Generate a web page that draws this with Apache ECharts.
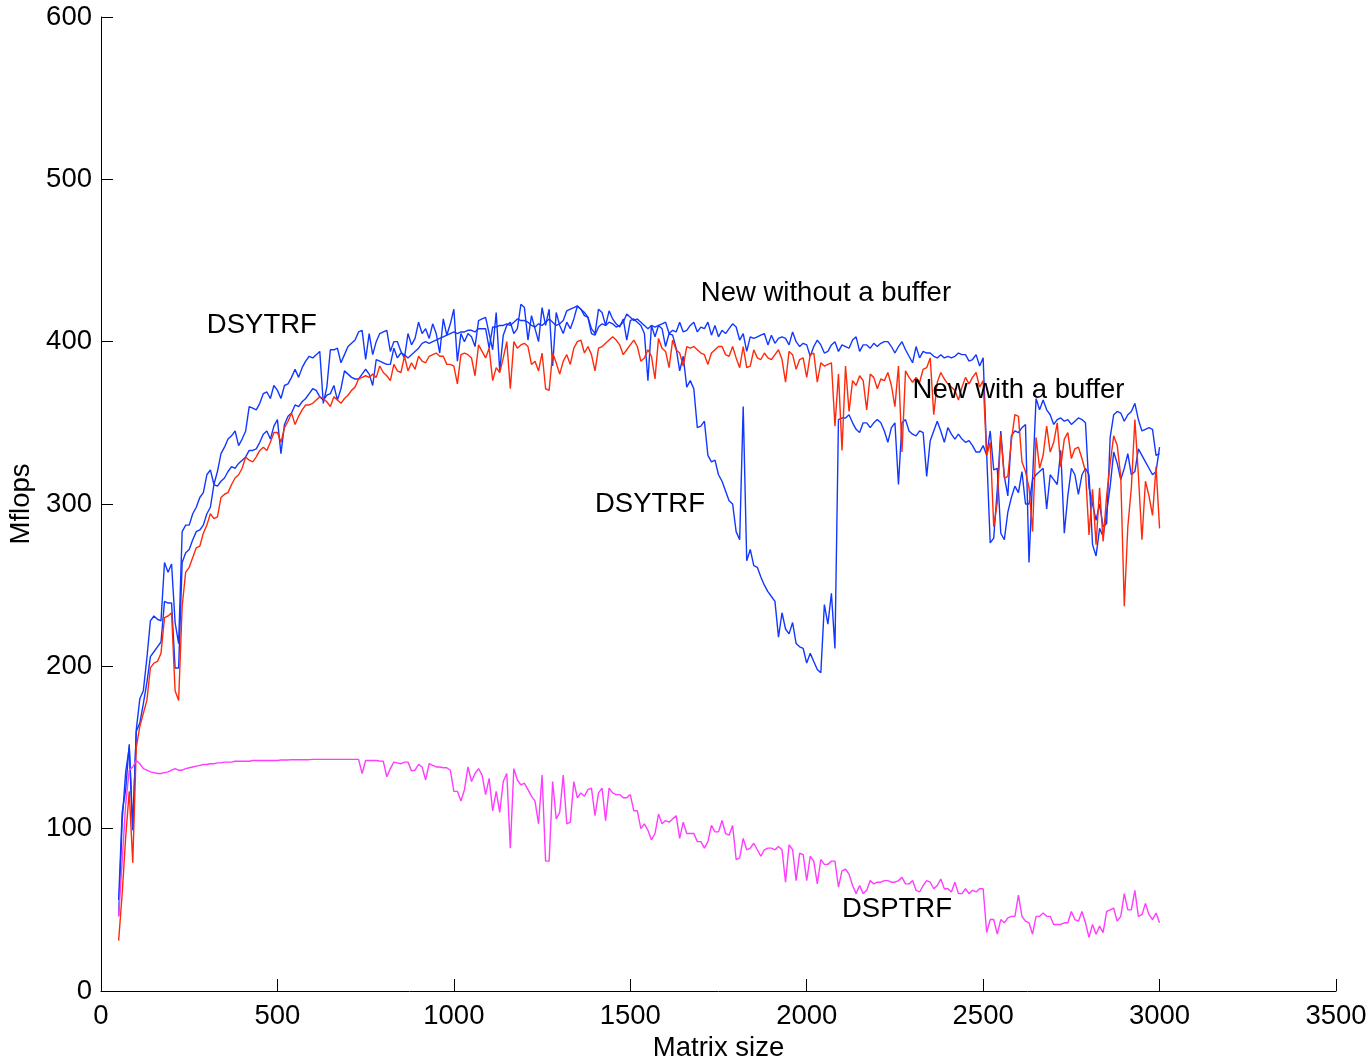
<!DOCTYPE html>
<html><head><meta charset="utf-8">
<script src="https://cdn.jsdelivr.net/npm/echarts@6/dist/echarts.min.js"></script>
<style>html,body{margin:0;padding:0;background:#fff}#c{width:1371px;height:1063px}</style>
</head><body><div id="c"></div>
<script>
// Matrix sizes: 50, 60, ..., 3000
const FIRST_SIZE = 50, SIZE_STEP = 10;

const dsytrf = [
56,110,124,152,100,161,180,185,205,228,
231,229,228,264,258,263,227,214,283,287,
287,294,298,304,307,318,321,312,320,331,
335,340,342,345,336,340,345,360,359,358,
362,368,369,365,373,370,365,373,374,378,
383,378,384,388,391,390,392,394,362,372,
395,395,396,387,392,397,399,401,406,407,
389,405,392,400,405,406,407,394,400,400,
394,390,405,398,402,412,405,408,402,411,
405,393,414,404,411,420,388,405,400,405,
403,397,413,414,415,405,395,418,382,404,
410,412,405,408,423,421,401,416,408,400,
421,410,420,385,418,410,405,412,408,414,
422,420,416,415,408,405,420,418,410,419,
414,411,409,414,401,413,414,412,410,405,
376,410,403,410,408,397,405,404,396,382,
391,372,376,371,347,348,351,330,326,327,
318,314,308,302,300,283,278,360,265,272,
262,261,255,250,246,243,240,218,233,223,
220,227,214,212,211,202,208,203,198,196,
238,226,245,211,352,353,353,355,350,346,
344,350,350,347,350,352,350,345,338,347,
350,312,350,352,345,343,342,345,344,317,
339,345,351,345,338,347,343,340,343,340,
338,339,336,332,332,336,330,345,321,322,
282,278,295,304,311,307,320,300,300,315,
318,320,322,297,318,315,312,333,282,305,
322,318,306,318,322,318,275,268,285,280,
295,311,332,325,315,322,331,318,320,334,
330,326,322,318,320,335
];

const newWithoutBuffer = [
46,105,135,150,99,160,165,177,190,206,
209,212,215,240,239,239,199,199,264,270,
272,278,283,284,287,294,298,312,311,314,
316,320,323,322,325,327,329,333,333,334,
338,343,345,340,348,352,331,349,354,356,
361,360,363,365,368,371,370,366,364,367,
368,373,364,371,382,380,378,377,377,380,
383,380,373,389,388,387,386,386,396,390,
393,392,390,392,394,396,399,400,399,400,
401,402,403,404,405,406,405,406,406,407,
407,406,408,408,408,396,409,409,410,410,
411,410,412,414,413,413,412,410,409,411,
410,412,414,412,410,411,413,419,420,421,
422,420,418,415,405,404,409,411,410,412,
411,409,410,412,417,415,413,414,412,410,
408,410,409,410,411,412,405,407,406,412,
406,407,410,412,406,409,408,412,404,410,
403,407,405,408,411,409,401,405,394,403,
402,403,404,405,398,404,399,402,403,402,
398,406,400,397,399,398,391,397,401,398,
393,394,398,400,394,398,397,396,401,403,
394,398,398,396,399,397,399,400,400,397,
393,397,400,395,391,387,397,390,394,393,
393,391,390,392,390,391,390,391,393,392,
392,388,389,392,385,390,331,276,279,309,
345,317,305,342,345,344,347,349,264,315,
365,358,364,358,355,349,352,353,351,352,
349,351,353,352,350,310,300,290,300,286,
288,341,355,357,356,351,355,357,362,352,
345,346,347,346,330,331
];

const newWithBuffer = [
31,60,95,123,79,150,163,171,179,199,
202,203,208,230,231,233,185,179,237,258,
261,267,273,274,282,287,294,291,292,304,
306,307,312,316,318,322,329,327,326,329,
333,335,333,338,344,344,338,347,351,356,
349,354,358,361,361,362,364,366,365,363,
360,366,364,362,365,367,370,372,377,378,
379,378,380,378,385,381,379,376,386,382,
381,391,382,387,383,391,388,387,391,392,
393,391,391,386,386,385,374,392,393,392,
390,379,398,394,390,396,376,384,381,390,
400,371,400,396,398,399,397,386,388,382,
393,371,370,393,387,380,388,392,386,396,
400,401,393,397,392,382,396,397,399,401,
403,401,398,392,395,398,401,397,388,390,
395,391,377,402,396,394,384,401,395,393,
385,397,396,397,395,393,392,386,393,395,
397,397,392,391,397,390,384,397,384,385,
395,390,389,393,390,389,392,395,389,375,
394,392,383,389,390,378,392,393,375,387,
385,386,387,348,380,333,385,357,376,373,
379,376,358,380,378,371,377,376,381,373,
360,385,332,382,378,375,378,375,383,384,
390,355,375,381,377,374,372,370,364,372,
378,374,378,381,372,376,330,338,286,301,
343,316,317,339,355,354,326,320,310,283,
341,322,330,348,332,338,350,323,340,344,
328,334,335,328,320,281,309,275,310,277,
305,325,342,336,317,237,286,310,352,318,
278,314,305,293,323,285
];

const dsptrf = [
46,80,115,136,138,142,140,137,136,135,
134.5,134,134,134.5,135,136,137,136,136,137,
137.5,138,138.5,139,139.5,139.5,140,140,140.5,140.5,
141,141,141,141.5,141.5,141.5,141.5,141.5,142,142,
142,142,142,142,142,142,142.3,142.3,142.3,142.5,
142.5,142.5,142.5,142.5,142.5,142.7,142.7,142.7,142.7,142.7,
142.7,142.7,142.7,142.7,142.7,142.7,142.7,142.7,142.7,134,
142,142,142,142,141.7,141.5,132,137,141,140.5,
140,141,141,135.6,136,139.6,138,130,140,139,
138,138,137.5,137.5,136,123,123,117,124,138,
129,134,137,133,121,131,111,123,110,129,
134,88,137,130,127,128,124,120,117,103,
133,80,80,129,106,110,133,103,104,129,
119,122,120,124,125,108,122,125,105,125,
122,121,121,119,119,121,111,111,100,103,
99,93,97,109,103,105,104,106,108,94,
104,97,97,97,92,92,88,92,102,98,
98,105,97,96,102,81,82,94,87,88,
91,87,83,87,88,88,87,89,87,67,
90,87,68,85,84,68,83,80,66,81,
78,78,80,80,64,74,75,72,65,60,
65,60,62,68,66,67,67,68,68,67,
67,68,70,66,66,68,62,61,65,68,
67,63,65,69,63,63,61,67,60,60,
63,60,62,61,63,63,36,44,44,35,
44,42,45,46,46,59,46,43,42,35,
46,46,48,46,46,41,41,41,42,42,
49,44,43,49,42,33,41,35,40,36,
49,50,51,43,46,60,50,50,62,46,
47,54,47,44,48,42
];

const annotations = [
  {text: 'DSYTRF', x: 300, y: 410},
  {text: 'DSYTRF', x: 1400, y: 300},
  {text: 'New without a buffer', x: 1700, y: 430},
  {text: 'New with a buffer', x: 2300, y: 370},
  {text: 'DSPTRF', x: 2100, y: 50}
];

const xMin = 0, xMax = 3500, xStep = 500;
const yMin = 0, yMax = 600, yStep = 100;
const xName = 'Matrix size', yName = 'Mflops';

const FONT = '"Liberation Sans", Helvetica, Arial, sans-serif';
const FS = 27.5;
const sizes = dsytrf.map((_, i) => FIRST_SIZE + i * SIZE_STEP);
const pairs = arr => arr.map((v, i) => [sizes[i], v]);

const chart = echarts.init(document.getElementById('c'), null, {renderer: 'canvas'});
const axisCommon = {
  axisLine: {show: true, onZero: false, lineStyle: {color: '#000', width: 1}},
  axisTick: {show: true, inside: true, length: 12, lineStyle: {color: '#000', width: 1}},
  splitLine: {show: false},
  nameTextStyle: {color: '#000', fontSize: FS, fontFamily: FONT},
  axisLabel: {color: '#000', fontSize: FS, fontFamily: FONT, formatter: v => String(v)}
};
const lineSeries = (name, arr, color) => ({
  name, type: 'line', data: pairs(arr), showSymbol: false, symbol: 'none',
  lineStyle: {color, width: 1.4}, itemStyle: {color}, animation: false, silent: true
});
chart.setOption({
  animation: false,
  backgroundColor: '#fff',
  grid: {left: 101, right: 35, top: 17, bottom: 72, containLabel: false, outerBoundsMode: 'none'},
  xAxis: Object.assign({}, axisCommon, {
    type: 'value', min: xMin, max: xMax, interval: xStep,
    name: xName, nameLocation: 'middle', nameGap: 43,
    axisLabel: Object.assign({}, axisCommon.axisLabel, {margin: 11})
  }),
  yAxis: Object.assign({}, axisCommon, {
    type: 'value', min: yMin, max: yMax, interval: yStep,
    name: yName, nameLocation: 'middle', nameGap: 58, nameRotate: 90,
    axisLabel: Object.assign({}, axisCommon.axisLabel, {margin: 9})
  }),
  series: [
    lineSeries('DSYTRF', dsytrf, '#1238ff'),
    lineSeries('New without a buffer', newWithoutBuffer, '#1238ff'),
    lineSeries('New with a buffer', newWithBuffer, '#ff2a0a'),
    lineSeries('DSPTRF', dsptrf, '#ff3cff')
  ]
});
chart.setOption({
  graphic: annotations.map(a => {
    const p = chart.convertToPixel({gridIndex: 0}, [a.x, a.y]);
    return {type: 'text', x: p[0], y: p[1], z: 100,
      style: {text: a.text, fill: '#000', fontSize: FS, fontFamily: FONT, align: 'left', verticalAlign: 'middle'}};
  })
});
</script>
</body></html>
